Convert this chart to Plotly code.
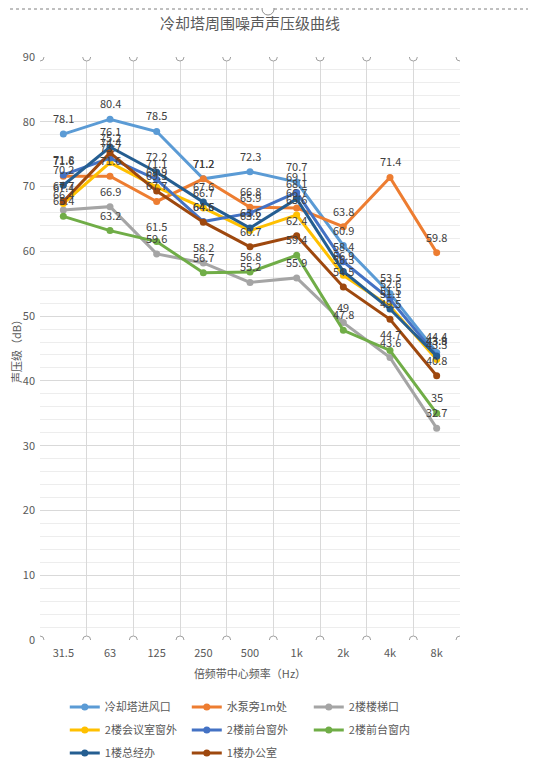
import plotly.graph_objects as go

# 倍频带中心频率
freqs = ["31.5", "63", "125", "250", "500", "1k", "2k", "4k", "8k"]

# 各测点声压级 dB
s_tower = [78.1, 80.4, 78.5, 71.2, 72.3, 70.7, 60.9, 53.5, 44.4]
s_pump = [71.6, 71.6, 67.7, 71.2, 66.8, 66.7, 63.8, 71.4, 59.8]
s_stair2 = [66.4, 66.9, 59.6, 58.2, 55.2, 55.9, 49, 43.6, 32.7]
s_meet2 = [67.4, 73.7, 69.9, 66.7, 63.2, 65.6, 56.3, 51.5, 43.3]
s_deskout2 = [71.8, 74.4, 71.1, 64.6, 65.9, 69.1, 58.4, 52.6, 43.9]
s_deskin2 = [65.4, 63.2, 61.5, 56.7, 56.8, 59.4, 47.8, 44.7, 35]
s_gm1 = [70.2, 76.1, 72.2, 67.6, 63.6, 68.1, 56.9, 51.1, 43.8]
s_office1 = [67.7, 75.2, 69.3, 64.5, 60.7, 62.4, 54.5, 49.5, 40.8]

names = ["冷却塔进风口", "水泵旁1m处", "2楼楼梯口", "2楼会议室窗外",
         "2楼前台窗外", "2楼前台窗内", "1楼总经办", "1楼办公室"]
series = [s_tower, s_pump, s_stair2, s_meet2, s_deskout2, s_deskin2, s_gm1, s_office1]
colors = ["#5B9BD5", "#ED7D31", "#A5A5A5", "#FFC000",
          "#4472C4", "#70AD47", "#255E91", "#9E480E"]
# legend rows: three entries per row, like the Excel legend
legend_rows = ["legend", "legend", "legend", "legend2", "legend2", "legend2",
               "legend3", "legend3"]

FONT = "Noto Sans CJK SC"
W, H = 528, 759  # page body has an 8px margin

fig = go.Figure()
labels = []
for name, vals, c, lg in zip(names, series, colors, legend_rows):
    fig.add_trace(go.Scatter(
        x=freqs, y=vals, name=name, legend=lg,
        mode="lines+markers",
        line=dict(color=c, width=3),
        marker=dict(color=c, size=7),
    ))
    # data labels sit above each point like Excel's "above" labels
    for i, v in enumerate(vals):
        labels.append(dict(
            x=i, y=v, xref="x", yref="y", text=str(v), showarrow=False,
            yshift=16, font=dict(size=11, color="#404040", family=FONT),
        ))

# selection handles on the gridlines (as in the screenshot)
shapes = []
for b in [i - 0.5 for i in range(len(freqs) + 1)]:
    for yv in (0, 90):
        shapes.append(dict(
            type="circle", xref="x", yref="y",
            xsizemode="pixel", ysizemode="pixel",
            xanchor=b, yanchor=yv, x0=-4, x1=4, y0=-4, y1=4,
            line=dict(color="#A0A0A0", width=1), fillcolor="white", layer="above",
        ))
# dashed chart-area border at top with its handles
top_y = 1 + (49 - 1) / 583
shapes.append(dict(type="line", xref="paper", yref="paper",
                   x0=-0.1, x1=1.19, y0=top_y, y1=top_y,
                   line=dict(color="#808080", width=1, dash="dot")))
for px in (0.5429, 1.181):
    shapes.append(dict(
        type="circle", xref="paper", yref="paper",
        xsizemode="pixel", ysizemode="pixel",
        xanchor=px, yanchor=top_y, x0=-6, x1=6, y0=-6, y1=6,
        line=dict(color="#909090", width=1), fillcolor="white",
    ))

leg_common = dict(orientation="h", x=0.059, xanchor="left", yref="container",
                  yanchor="middle", entrywidth=77, entrywidthmode="pixels",
                  font=dict(size=11, color="#595959", family=FONT), itemwidth=30)

fig.update_layout(
    width=W, height=H,
    margin=dict(l=32, r=76, t=49, b=127),
    paper_bgcolor="white", plot_bgcolor="white",
    font=dict(family=FONT, color="#595959", size=11),
    title=dict(text="冷却塔周围噪声声压级曲线", x=0.5, xref="paper",
               y=1 - 16 / H, yanchor="middle",
               font=dict(size=15, color="#595959", family=FONT)),
    showlegend=True,
    legend=dict(y=1 - 699 / H, **leg_common),
    legend2=dict(y=1 - 722 / H, **leg_common),
    legend3=dict(y=1 - 745 / H, **leg_common),
    shapes=shapes,
    annotations=labels,
)
fig.update_xaxes(
    type="category", range=[-0.5, 8.5], tickson="boundaries", automargin=False,
    showgrid=True, gridcolor="#D9D9D9", gridwidth=1,
    ticks="", showline=False, zeroline=False, ticklabelstandoff=5,
    tickfont=dict(size=11, color="#595959"),
    title=dict(text="倍频带中心频率（Hz）", font=dict(size=11, color="#595959"), standoff=11),
)
fig.update_yaxes(
    range=[0, 90], dtick=10, automargin=False,
    showgrid=True, gridcolor="#D9D9D9", gridwidth=1,
    minor=dict(dtick=2, showgrid=True, gridcolor="#EDEDED"),
    zeroline=False, showline=False, ticks="", ticklabelstandoff=4,
    tickfont=dict(size=11, color="#595959"),
    title=dict(text="声压级（dB）", font=dict(size=11, color="#595959"), standoff=2),
)

fig.write_html("out.html")
